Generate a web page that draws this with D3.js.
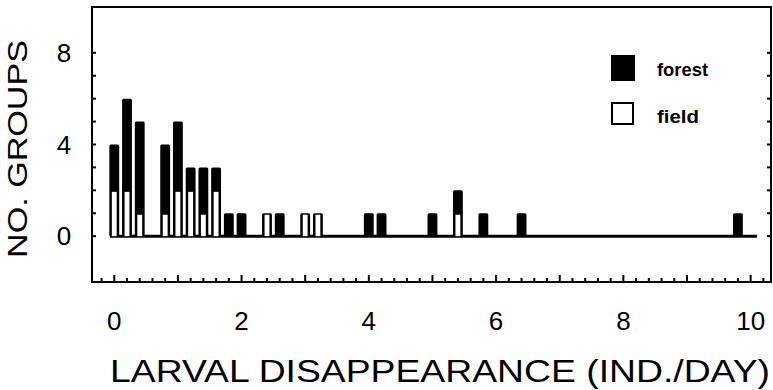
<!DOCTYPE html>
<html>
<head>
<meta charset="utf-8">
<script src="https://cdn.jsdelivr.net/npm/d3@7"></script>
<style>
  body { margin: 0; background: #fff; }
  svg { display: block; }
  text { font-family: "Liberation Sans", Arial, sans-serif; fill: #000; }
</style>
</head>
<body>
<div id="chart"></div>
<script>
// disappearance rate classes (ind./day)
var rates  = [0, 0.2, 0.4, 0.8, 1.0, 1.2, 1.4, 1.6, 1.8, 2.0, 2.4, 2.6, 3.0, 3.2, 4.0, 4.2, 5.0, 5.4, 5.8, 6.4, 9.8];
// number of groups, by habitat
var field  = [2, 2, 1, 1, 2, 2, 1, 2, 0, 0, 1, 0, 1, 1, 0, 0, 0, 1, 0, 0, 0];
var forest = [2, 4, 4, 3, 3, 1, 2, 1, 1, 1, 0, 1, 0, 0, 1, 1, 1, 1, 1, 1, 1];

var yTickLabels = [0, 4, 8];
var xTickLabels = [0, 2, 4, 6, 8, 10];

var width = 773, height = 390;
var svg = d3.select('#chart').append('svg')
  .attr('width', width)
  .attr('height', height);

// Scales (frame spans the whole domain)
var x = d3.scaleLinear().domain([-0.35, 10.32]).range([92, 771]);
var y = d3.scaleLinear().domain([-2, 10]).range([282, 7]);
var barW = x(0.155) - x(0);

// Frame
svg.append('rect')
  .attr('x', x.range()[0]).attr('y', y.range()[1])
  .attr('width', x.range()[1] - x.range()[0])
  .attr('height', y.range()[0] - y.range()[1])
  .attr('fill', 'none').attr('stroke', '#000').attr('stroke-width', 2);

// Bottom ticks: minor every 0.2, major every 1
var xTicks = d3.range(-1, 52).map(function(i) { return i / 5; });
svg.append('g').selectAll('line').data(xTicks).enter().append('line')
  .attr('x1', function(d) { return x(d); })
  .attr('x2', function(d) { return x(d); })
  .attr('y1', y.range()[0])
  .attr('y2', function(d, i) { return y.range()[0] - ((i - 1) % 5 === 0 ? 7 : 4); })
  .attr('stroke', '#000').attr('stroke-width', 2);

// Left and right ticks, 0..8
var yTicks = d3.range(0, 9);
svg.append('g').selectAll('line').data(yTicks).enter().append('line')
  .attr('x1', x.range()[0]).attr('x2', x.range()[0] + 4)
  .attr('y1', function(d) { return y(d); })
  .attr('y2', function(d) { return y(d); })
  .attr('stroke', '#000').attr('stroke-width', 2);
svg.append('g').selectAll('line').data(yTicks).enter().append('line')
  .attr('x1', x.range()[1]).attr('x2', x.range()[1] - 4)
  .attr('y1', function(d) { return y(d); })
  .attr('y2', function(d) { return y(d); })
  .attr('stroke', '#000').attr('stroke-width', 2);

// Tick labels
svg.append('g').selectAll('text').data(xTickLabels).enter().append('text')
  .attr('x', function(d) { return x(d); })
  .attr('y', 330)
  .attr('text-anchor', 'middle')
  .attr('font-size', 26)
  .text(function(d) { return d; });
svg.append('g').selectAll('text').data(yTickLabels).enter().append('text')
  .attr('x', 64)
  .attr('y', function(d) { return y(d) + 9; })
  .attr('text-anchor', 'middle')
  .attr('font-size', 26)
  .text(function(d) { return d; });

// Axis titles
svg.append('text')
  .attr('x', 110).attr('y', 382)
  .attr('font-size', 31)
  .attr('textLength', 660).attr('lengthAdjust', 'spacingAndGlyphs')
  .text('LARVAL DISAPPEARANCE (IND./DAY)');
svg.append('text')
  .attr('transform', 'translate(27,258)rotate(-90)')
  .attr('font-size', 27)
  .attr('textLength', 218).attr('lengthAdjust', 'spacingAndGlyphs')
  .text('NO. GROUPS');

// Baseline
svg.append('line')
  .attr('x1', x(-0.07)).attr('x2', x(10.1))
  .attr('y1', y(0)).attr('y2', y(0))
  .attr('stroke', '#000').attr('stroke-width', 3);

// Bars: black full stack, white inset for the field part at the bottom
var bars = svg.append('g').selectAll('g').data(rates).enter().append('g');
bars.append('rect')
  .attr('x', function(d) { return x(d) - barW / 2; })
  .attr('y', function(d, i) { return y(field[i] + forest[i]); })
  .attr('width', barW)
  .attr('height', function(d, i) { return y(0) - y(field[i] + forest[i]); })
  .attr('rx', 1.5)
  .attr('fill', '#000');
bars.filter(function(d, i) { return field[i] > 0; }).append('rect')
  .attr('x', function(d) { return x(d) - barW / 2 + 2.5; })
  .attr('y', function(d) { var i = rates.indexOf(d); return y(field[i]) + 1.5; })
  .attr('width', barW - 5)
  .attr('height', function(d) { var i = rates.indexOf(d); return y(0) - y(field[i]) - 1.5; })
  .attr('fill', '#fff');

// Legend
var legend = svg.append('g');
legend.append('rect')
  .attr('x', 611).attr('y', 55).attr('width', 24).attr('height', 26)
  .attr('fill', '#000');
legend.append('rect')
  .attr('x', 612).attr('y', 103).attr('width', 21).attr('height', 21)
  .attr('fill', '#fff').attr('stroke', '#000').attr('stroke-width', 2);
legend.append('text')
  .attr('x', 657).attr('y', 76)
  .attr('font-size', 19).attr('font-weight', 'bold')
  .attr('textLength', 51).attr('lengthAdjust', 'spacingAndGlyphs')
  .text('forest');
legend.append('text')
  .attr('x', 657).attr('y', 123)
  .attr('font-size', 19).attr('font-weight', 'bold')
  .attr('textLength', 42).attr('lengthAdjust', 'spacingAndGlyphs')
  .text('field');
</script>
</body>
</html>
